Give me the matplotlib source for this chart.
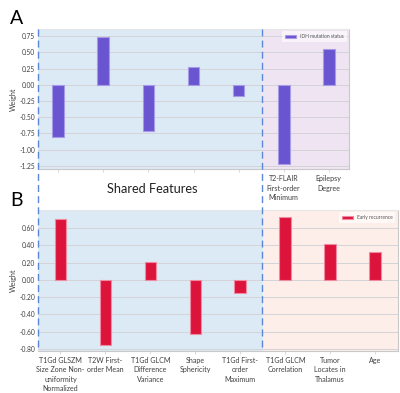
import numpy as np
import matplotlib.pyplot as plt
from matplotlib.lines import Line2D

plt.rcParams['font.family'] = ['Lato', 'DejaVu Sans']

# Panel A: IDH mutation status
a_labels = ['', '', '', '', '', 'T2-FLAIR\nFirst-order\nMinimum', 'Epilepsy\nDegree']
a_weights = [-0.81, 0.73, -0.72, 0.28, -0.18, -1.22, 0.55]
a_ticks = [-1.25, -1.00, -0.75, -0.50, -0.25, 0.00, 0.25, 0.50, 0.75]

# Panel B: early recurrence
b_labels = ['T1Gd GLSZM\nSize Zone Non-\nuniformity\nNormalized', 'T2W First-\norder Mean',
            'T1Gd GLCM\nDifference\nVariance', 'Shape\nSphericity', 'T1Gd First-\norder\nMaximum',
            'T1Gd GLCM\nCorrelation', 'Tumor\nLocates in\nThalamus', 'Age']
b_weights = [0.71, -0.75, 0.21, -0.63, -0.15, 0.73, 0.42, 0.32]
b_ticks = [-0.80, -0.60, -0.40, -0.20, 0.00, 0.20, 0.40, 0.60]

n_shared = 5
shared_bg = '#dbeaf5'

W, H = 400, 393
fig = plt.figure(figsize=(4, 3.93), dpi=100)

def fx(px):
    return px / W

def fy(py):
    return 1 - py / H

axA = fig.add_axes([fx(38), fy(169), fx(349) - fx(38), fy(29) - fy(169)])
axB = fig.add_axes([fx(38), fy(350.7), fx(397.7) - fx(38), fy(210) - fy(350.7)])

def style(ax, labels, weights, ticks, color, edge, right_bg, legend, xlim, ylim):
    x = np.arange(len(labels))
    ax.axvspan(xlim[0], n_shared - 0.5, color=shared_bg, zorder=0, lw=0)
    ax.axvspan(n_shared - 0.5, xlim[1], color=right_bg, zorder=0, lw=0)
    ax.set_yticks(ticks)
    ax.yaxis.grid(True, color='#d3d3d8', lw=0.7, zorder=1)
    ax.bar(x, weights, width=0.26, color=color, edgecolor=edge, lw=0.8, zorder=3, label=legend)
    ax.set_xlim(*xlim)
    ax.set_ylim(*ylim)
    ax.set_xticks(x)
    ax.set_xticklabels(labels, fontsize=5.1, color='#404040', linespacing=1.4)
    ax.set_yticklabels(['{:.2f}'.format(t) for t in ticks], fontsize=4.8, color='#404040')
    ax.tick_params(axis='x', length=2, width=0.4, color='#bbbbbb', pad=2.5)
    ax.tick_params(axis='y', length=0, pad=2)
    ax.set_ylabel('Weight', fontsize=5.2, color='#404040', labelpad=2)
    ax.spines['left'].set_visible(False)
    for s in ['top', 'right', 'bottom']:
        ax.spines[s].set_color('#c8c8c8')
        ax.spines[s].set_linewidth(0.8)
    ax.spines['top'].set_color('#e6e6e6')
    leg = ax.legend(loc='upper right', fontsize=3.5, frameon=True, handlelength=2.2,
                    handleheight=0.6, borderpad=0.6, framealpha=0.6, edgecolor='none')
    for t in leg.get_texts():
        t.set_color('#555555')

style(axA, a_labels, a_weights, a_ticks, '#6a55d0', '#a79ae6', '#efe5f2',
      'IDH mutation status', (-0.45, 6.45), (-1.30, 0.86))
style(axB, b_labels, b_weights, b_ticks, '#dc143c', '#f08aa0', '#fdeee9',
      'Early recurrence', (-0.5, 7.5), (-0.82, 0.81))

# dashed separators spanning both panels
for px in [38, 261.7]:
    fig.add_artist(Line2D([fx(px), fx(px)], [fy(29), fy(350.7)], transform=fig.transFigure,
                          color='#5b87d6', lw=1.0, ls=(0, (5, 3))))

fig.text(fx(152), fy(189), 'Shared Features', fontsize=9.2, ha='center', va='center', color='#222222')
fig.text(fx(17), fy(19), 'A', fontsize=14, ha='center', va='center')
fig.text(fx(17), fy(201), 'B', fontsize=14, ha='center', va='center')

fig.savefig('out.png', dpi=100)
